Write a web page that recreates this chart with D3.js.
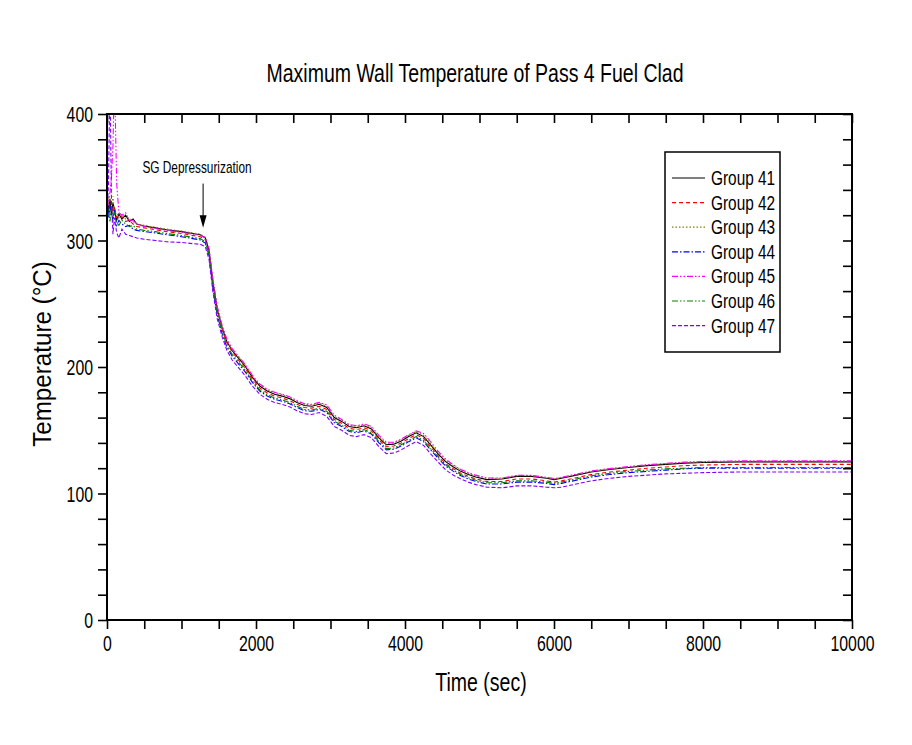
<!DOCTYPE html>
<html><head><meta charset="utf-8">
<script src="https://d3js.org/d3.v7.min.js"></script>
<style>
body{margin:0;background:#fff;}
text{font-family:"Liberation Sans",Arial,sans-serif;fill:#000;}
</style></head>
<body><svg id="c" width="912" height="745"></svg>
<script>
const time = [0,20,40,60,80,100,130,160,200,250,300,350,400,500,650,800,1000,1150,1250,1320,1370,1420,1480,1550,1610,1680,1750,1850,1950,2050,2150,2250,2350,2450,2550,2650,2750,2850,2950,3050,3150,3250,3350,3450,3550,3650,3750,3850,3950,4050,4150,4250,4350,4450,4550,4650,4750,4850,4950,5100,5300,5500,5700,5900,6000,6100,6300,6500,6750,7000,7250,7500,7750,8000,8500,9000,9500,10000];

const group41 = [338,322,333,320,330,324,316,321,317,320,315,317,313,311.5,310,308.5,307,305.5,304.5,302,292,268,246,230,220,213,208,201,192,185,181,178.5,177,175,172,169.5,169,170.5,168,160,157,153,152,153.5,151,144,138.5,139,141.5,145,148,145,138,131,125,121,117.5,115,113,111,111.5,113.5,113.5,112,111,112,114.5,117,119,120.5,122,123,124,124.5,125,125,125,125];
const group42 = [332,328,325,330,322,327,318,317,319,315,316,313,311,310,308.5,307,305.5,304,303,300.5,290,266,245,229,219,212,206.5,199.5,190.5,183.5,179.5,177,175.5,173.5,170.5,168,167.5,169,166.5,158.5,155.5,151.5,150.5,152,149.5,142.5,137,137.5,140,143.5,146.5,143.5,136.5,129.5,123.5,119.5,116,113.5,111.5,109.5,109.5,111.5,111.5,110,109,110,112.5,115,117,118.5,120,121,122,122.5,123,123,123,123];
const group43 = [330,335,318,326,335,320,322,318,321,317,318,315,313,312,310.5,309,307.5,306,305,302.5,293,269,247,231,221,214,209,202,193,186,182,179.5,178,176,173,170.5,170,171.5,169,161,158,154,153,154.5,152,145,139.5,140,142.5,146,149,146,139,132,126,122,118.5,116,114,112,112,114,114,112.5,111.5,112.5,115,117.5,119.5,121,122.5,123.5,124.5,125,125.5,125.5,125.5,125.5];
const group44 = [335,318,328,322,315,324,312,316,313,311,312,309,308,307,306,304.5,303,301.5,300.5,298,288,263,241,225.5,215.5,208.5,203.5,196.5,188,181,177,174.5,173,171,168,165.5,165,166.5,164,156,153,149,148,149.5,147,140,134.5,135,137.5,141,144,141,134,127.5,121.5,117.5,114,111.5,109.5,107.5,107.5,109,109,108,107,108,110.5,113,115,116.5,117.5,118.5,119.5,120,120,120,120,120];
const group45 = [325,330,338,350,375,430,345,322,320,322,316,316,313,311,309.5,308,306.5,305,304,302.5,294,270,248,232,222,214.5,209.5,202.5,193.5,186.5,182.5,180,178.5,176.5,173.5,171,170.5,172,170,162,158.5,154.5,153.5,155,153,146,140.5,140.5,143,146.5,149.5,147.5,140.5,133,127,122.5,119,116.5,114.5,112.3,112.3,114.3,114.3,112.8,111.8,112.8,115.3,117.8,119.8,121.3,122.8,123.8,124.8,125.3,125.8,125.8,125.8,125.8];
const group46 = [328,322,315,327,318,322,314,312,316,313,311,312,309,308,307,305.5,304,302.5,301.5,299,289,264.5,242.5,227,217,210,205,198,189,182,178,175.5,174,172,169,166.5,166,167.5,165,157,154,150,149,150.5,148,141,135.5,136,138.5,142,145,142,135,128.5,122.5,118.5,115,112.5,110.5,108.5,108.5,110,110,109,108,109,111.5,114,116,117.5,118.5,119.5,120,120.5,120.5,120.5,120.5,120.5];
const group47 = [320,345,430,330,305,318,306,302,309,305,304,303,302,301,300,299,298.5,297.5,297,295,285,260,238,223,213,205.5,200.5,193.5,185,178.5,174.5,172,170.5,168.5,165.5,163,162.5,164,161,153,150,146,145,146.5,144,137,131.5,132,134.5,138,141,138,131,124.5,118.5,114.5,111.5,109,107,105,104.5,106,106,105,104.5,105,107.5,110,112,113.5,114.5,115.5,116,116.5,117,117,117,117];

const seriesNames = ["Group 41","Group 42","Group 43","Group 44","Group 45","Group 46","Group 47"];
const seriesValues = [group41,group42,group43,group44,group45,group46,group47];
const seriesColors = ["#000000","#ff0000","#808000","#0000ff","#ff00ff","#008000","#8000ff"];
const seriesDash = [null,"4,3","1.5,2","6,2,1.5,2","6,2,1.5,2,1.5,2","6,2,1.5,2,1.5,2","4,2"];

const xTicks = [0,2000,4000,6000,8000,10000];
const yTicks = [0,100,200,300,400];

const svg = d3.select("#c");
const L=107,R=852,T=114,B=620;
const x = d3.scaleLinear().domain([0,10000]).range([L,R]);
const y = d3.scaleLinear().domain([0,400]).range([B,T]);

// condensed text helper
function ntext(px, py, size, sx, str, anchor, rot){
  return svg.append("text")
    .attr("transform",`translate(${px},${py})` + (rot?` rotate(${rot})`:"") + ` scale(${sx},1)`)
    .attr("font-size",size+"px").attr("text-anchor",anchor||"start").text(str);
}

svg.append("defs").append("clipPath").attr("id","clip")
  .append("rect").attr("x",L).attr("y",T).attr("width",R-L).attr("height",B-T);

const g = svg.append("g").attr("clip-path","url(#clip)");
const line = d3.line().x((d,i)=>x(time[i])).y(d=>y(d));
seriesValues.forEach((vals,k)=>{
  g.append("path").datum(vals).attr("d",line)
   .attr("fill","none").attr("stroke",seriesColors[k]).attr("stroke-width",1.1)
   .attr("stroke-dasharray",seriesDash[k]);
});

// axes
const TS = 9, TF = 22, TX = 0.72;
const xb = svg.append("g").attr("transform",`translate(0,${B})`)
  .call(d3.axisBottom(x).tickValues(d3.range(0,10001,500)).tickSize(TS).tickFormat(d=>xTicks.includes(d)?d:""));
const xt = svg.append("g").attr("transform",`translate(0,${T})`)
  .call(d3.axisBottom(x).tickValues(d3.range(0,10001,500)).tickSize(TS).tickFormat(""));
const yl = svg.append("g").attr("transform",`translate(${L},0)`)
  .call(d3.axisLeft(y).tickValues(d3.range(0,401,20)).tickSize(TS).tickFormat(d=>yTicks.includes(d)?d:""));
const yr = svg.append("g").attr("transform",`translate(${R},0)`)
  .call(d3.axisLeft(y).tickValues(d3.range(0,401,20)).tickSize(TS).tickFormat(""));
[xb,xt,yl,yr].forEach(a=>{
  a.select(".domain").remove();
  a.selectAll("line").attr("stroke","#000").attr("stroke-width",1.6);
  a.selectAll("text").attr("font-size",TF+"px").attr("fill","#000")
   .attr("font-family",'"Liberation Sans",Arial,sans-serif');
});
xb.selectAll("text").attr("y",31).attr("dy",null).attr("transform",`scale(${TX},1)`);
yl.selectAll("text").attr("x",-14/TX).attr("dy","0.36em").attr("transform",`scale(${TX},1)`);

svg.append("rect").attr("x",L).attr("y",T).attr("width",R-L).attr("height",B-T)
  .attr("fill","none").attr("stroke","#000").attr("stroke-width",2);

// titles
ntext(475, 82, 25, 0.78, "Maximum Wall Temperature of Pass 4 Fuel Clad", "middle");
ntext(481, 691, 25, 0.78, "Time (sec)", "middle");
ntext(51, 354, 26, 0.93, "Temperature (\u00B0C)", "middle", -90);

// annotation
ntext(197, 173, 16, 0.74, "SG Depressurization", "middle");
const ax = x(1290);
svg.append("line").attr("x1",ax).attr("x2",ax).attr("y1",y(345)).attr("y2",y(318))
  .attr("stroke","#000").attr("stroke-width",1);
svg.append("path").attr("d",`M${ax-3.5},${y(320)} L${ax+3.5},${y(320)} L${ax},${y(310)} Z`).attr("fill","#000");

// legend
svg.append("rect").attr("x",665).attr("y",152).attr("width",115).attr("height",200)
  .attr("fill","#fff").attr("stroke","#000").attr("stroke-width",1.5);
seriesNames.forEach((n,k)=>{
  const yy = 178 + k*24.6;
  svg.append("line").attr("x1",672).attr("x2",705).attr("y1",yy).attr("y2",yy)
    .attr("stroke",seriesColors[k]).attr("stroke-width",1.2).attr("stroke-dasharray",seriesDash[k]);
  ntext(711, yy+7, 20, 0.77, n, "start");
});
</script></body></html>
